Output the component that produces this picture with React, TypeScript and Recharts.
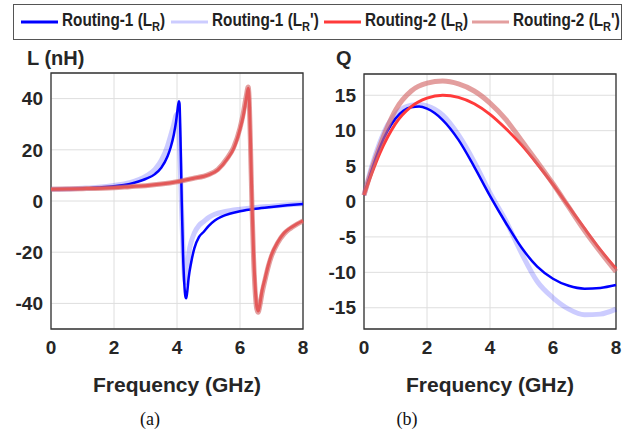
import { LineChart, Line, XAxis, YAxis, CartesianGrid, ReferenceArea } from 'recharts';

// L (nH) vs frequency, panel (a)
const lFreqR1 = [0, 0.5, 1, 1.5, 2, 2.5, 3, 3.3, 3.5, 3.7, 3.8, 3.9, 3.97, 4.02, 4.06, 4.08, 4.11, 4.15, 4.19, 4.23, 4.27, 4.29, 4.32, 4.37, 4.45, 4.55, 4.7, 4.85, 5.0, 5.2, 5.4, 5.7, 6.0, 6.5, 7.0, 7.5, 8.0];
const lValR1 = [4.6, 4.7, 4.9, 5.3, 5.8, 6.7, 8.6, 10.5, 13, 17.5, 21, 26, 31, 36, 39, 38, 25, 0, -20, -32, -37.5, -38, -36, -30, -24, -18.5, -14, -12, -9.8, -7.6, -6.2, -4.9, -4, -3, -2.3, -1.7, -1.2];

const lFreqR1p = [0, 0.5, 1, 1.5, 2, 2.5, 3, 3.3, 3.5, 3.7, 3.8, 3.9, 3.97, 4.02, 4.06, 4.1, 4.15, 4.2, 4.25, 4.28, 4.32, 4.38, 4.45, 4.55, 4.7, 4.85, 5.0, 5.2, 5.5, 6.0, 6.5, 7.0, 7.5, 8.0];
const lValR1p = [4.6, 4.7, 5.0, 5.4, 6.1, 7.2, 9.6, 12.3, 15.8, 21.5, 25.6, 30, 33.5, 34, 28, 15, -5, -22, -31, -32, -28, -20, -16, -12.5, -9.5, -8, -6.5, -5.2, -4.2, -3.2, -2.5, -2, -1.5, -1.1];

const lFreqR2 = [0, 1, 2, 2.5, 3, 3.5, 4, 4.5, 5, 5.3, 5.6, 5.8, 6.0, 6.1, 6.2, 6.26, 6.3, 6.34, 6.38, 6.43, 6.48, 6.53, 6.58, 6.62, 6.7, 6.8, 6.9, 7.0, 7.2, 7.4, 7.6, 7.8, 8.0];
const lValR2 = [4.6, 4.8, 5.2, 5.6, 6.0, 6.6, 7.5, 8.8, 10.2, 12.2, 16.5, 20.5, 28, 33, 40, 44, 38, 20, 0, -20, -33, -41, -43, -41, -35, -30, -25, -21, -16, -12.5, -10.5, -9, -7.7];

const lFreqR2p = [0, 1, 2, 2.5, 3, 3.5, 4, 4.5, 5, 5.3, 5.6, 5.8, 6.0, 6.1, 6.2, 6.26, 6.3, 6.34, 6.38, 6.43, 6.48, 6.53, 6.58, 6.62, 6.7, 6.8, 6.9, 7.0, 7.2, 7.4, 7.6, 7.8, 8.0];
const lValR2p = [4.6, 4.8, 5.2, 5.6, 6.0, 6.6, 7.5, 8.8, 10.3, 12.4, 16.8, 21, 28.5, 34, 41, 44.5, 37, 18, -2, -22, -35, -42, -43.5, -41.5, -36, -30.5, -25.5, -21.5, -16.3, -12.8, -10.7, -9.1, -7.8];

// Q vs frequency, panel (b)
const qFreq1 = [0, 0.25, 0.5, 0.75, 1, 1.25, 1.5, 1.75, 2, 2.5, 3, 3.5, 4, 4.5, 5, 5.5, 6, 6.5, 7, 7.5, 8];
const qValR1 = [0.9, 4.5, 7.6, 10.0, 11.7, 12.8, 13.3, 13.4, 13.1, 11.5, 8.7, 4.9, 0.8, -3.0, -6.5, -9.2, -10.9, -11.9, -12.3, -12.2, -11.8];
const qValR1p = [0.9, 5.0, 8.3, 10.8, 12.3, 13.2, 13.6, 13.7, 13.5, 12.2, 9.4, 5.6, 1.2, -2.7, -7.3, -11.3, -13.6, -15.2, -16.0, -15.9, -15.2];

const qFreq2 = [0, 0.25, 0.5, 0.75, 1, 1.5, 2, 2.5, 3, 3.5, 4, 4.5, 5, 5.5, 6, 6.5, 7, 7.5, 8];
const qValR2 = [0.9, 4.0, 6.8, 9.1, 11.0, 13.4, 14.6, 15.0, 14.7, 13.8, 12.3, 10.3, 8.0, 5.3, 2.4, -0.7, -3.8, -6.8, -9.5];
const qValR2p = [0.9, 4.6, 7.8, 10.6, 12.9, 15.6, 16.7, 17.0, 16.6, 15.6, 13.9, 11.6, 8.6, 5.6, 2.5, -0.8, -4.1, -7.1, -9.9];

const freqTicks = [0, 2, 4, 6, 8];
const lTicks = [-40, -20, 0, 20, 40];
const qTicks = [-15, -10, -5, 0, 5, 10, 15];

const zip = (f: number[], v: number[]) => f.map((x, i) => ({ f: x, v: v[i] }));

// legend order = draw order
const seriesStyle = [
  { name: 'Routing-1', sup: '', color: '#0000ff', width: 2.5, opacity: 1, left: 7 },
  { name: 'Routing-1', sup: "'", color: '#0000ff', width: 5, opacity: 0.2, left: 157 },
  { name: 'Routing-2', sup: '', color: '#ff3a3a', width: 3, opacity: 1, left: 310 },
  { name: 'Routing-2', sup: "'", color: '#d46a6a', width: 5, opacity: 0.65, left: 458 },
];

const FONT = "'Liberation Sans', Arial, sans-serif";
const tickStyle = { fontSize: 19, fontWeight: 700, fill: '#262626', fontFamily: FONT };

function Panel({ left, width, yWidth, top, marginRight, data, domain, ticks }: any) {
  return (
    <div style={{ position: 'absolute', left, top: 0 }}>
      <LineChart width={width} height={432} margin={{ top, right: marginRight, bottom: 0, left: 0 }}>
        <CartesianGrid stroke="#dedede" strokeWidth={1} />
        <XAxis
          dataKey="f"
          type="number"
          domain={[0, 8]}
          ticks={freqTicks}
          height={432 - 329}
          axisLine={false}
          tickLine={false}
          tickSize={0}
          tickMargin={12}
          tick={tickStyle}
          allowDuplicatedCategory={false}
        />
        <YAxis
          type="number"
          domain={domain}
          ticks={ticks}
          width={yWidth}
          axisLine={false}
          tickLine={false}
          tickSize={0}
          tickMargin={8}
          tick={tickStyle}
          allowDataOverflow
        />
        {data.map((d: any[], i: number) => (
          <Line
            key={i}
            data={d}
            dataKey="v"
            type="monotone"
            stroke={seriesStyle[i].color}
            strokeWidth={seriesStyle[i].width}
            strokeOpacity={seriesStyle[i].opacity}
            strokeLinejoin="round"
            dot={false}
            activeDot={false}
            isAnimationActive={false}
          />
        ))}
        <ReferenceArea x1={0} x2={8} y1={domain[0]} y2={domain[1]} fill="none" stroke="#333" strokeWidth={1.3} />
      </LineChart>
    </div>
  );
}

function Legend() {
  return (
    <div
      style={{
        position: 'absolute',
        left: 13,
        top: 4,
        width: 609,
        height: 36,
        border: '1.3px solid #555',
        boxSizing: 'border-box',
        fontFamily: FONT,
        fontWeight: 700,
        fontSize: 18,
        color: '#222',
      }}
    >
      {seriesStyle.map((s, i) => (
        <div key={i} style={{ position: 'absolute', left: s.left, top: 5, display: 'flex', alignItems: 'center', whiteSpace: 'nowrap' }}>
          <svg width={37} height={10} style={{ marginRight: 4 }}>
            <line x1={0} y1={5} x2={37} y2={5} stroke={s.color} strokeOpacity={s.opacity} strokeWidth={3} />
          </svg>
          <span style={{ display: 'inline-block', transform: 'scaleX(0.85)', transformOrigin: 'left center' }}>
            {s.name} (L<sub style={{ fontSize: 13 }}>R</sub>
            {s.sup})
          </span>
        </div>
      ))}
    </div>
  );
}

const labelStyle: any = { position: 'absolute', fontFamily: FONT, fontWeight: 700, fontSize: 21, color: '#262626', lineHeight: 1, whiteSpace: 'nowrap' };
const capStyle: any = { position: 'absolute', fontFamily: "'Liberation Serif', 'Times New Roman', serif", fontSize: 18, color: '#111', lineHeight: 1 };

export default function App() {
  const lData = [zip(lFreqR1, lValR1), zip(lFreqR1p, lValR1p), zip(lFreqR2, lValR2), zip(lFreqR2p, lValR2p)];
  const qData = [zip(qFreq1, qValR1), zip(qFreq1, qValR1p), zip(qFreq2, qValR2), zip(qFreq2, qValR2p)];
  return (
    <div style={{ position: 'absolute', left: 0, top: 0, width: 638, height: 432, background: '#fff', overflow: 'hidden' }}>
      <Legend />
      <div style={{ ...labelStyle, left: 27, top: 48, fontSize: 20 }}>L (nH)</div>
      <div style={{ ...labelStyle, left: 336, top: 48, fontSize: 20 }}>Q</div>
      <Panel left={0} width={320} yWidth={51} top={73} marginRight={17} data={lData} domain={[-50, 50]} ticks={lTicks} />
      <Panel left={318} width={320} yWidth={46} top={74} marginRight={22} data={qData} domain={[-18, 18]} ticks={qTicks} />
      <div style={{ ...labelStyle, left: 177, top: 374, transform: 'translateX(-50%)' }}>Frequency (GHz)</div>
      <div style={{ ...labelStyle, left: 490, top: 374, transform: 'translateX(-50%)' }}>Frequency (GHz)</div>
      <div style={{ ...capStyle, left: 150, top: 410, transform: 'translateX(-50%)' }}>(a)</div>
      <div style={{ ...capStyle, left: 407, top: 410, transform: 'translateX(-50%)' }}>(b)</div>
    </div>
  );
}
